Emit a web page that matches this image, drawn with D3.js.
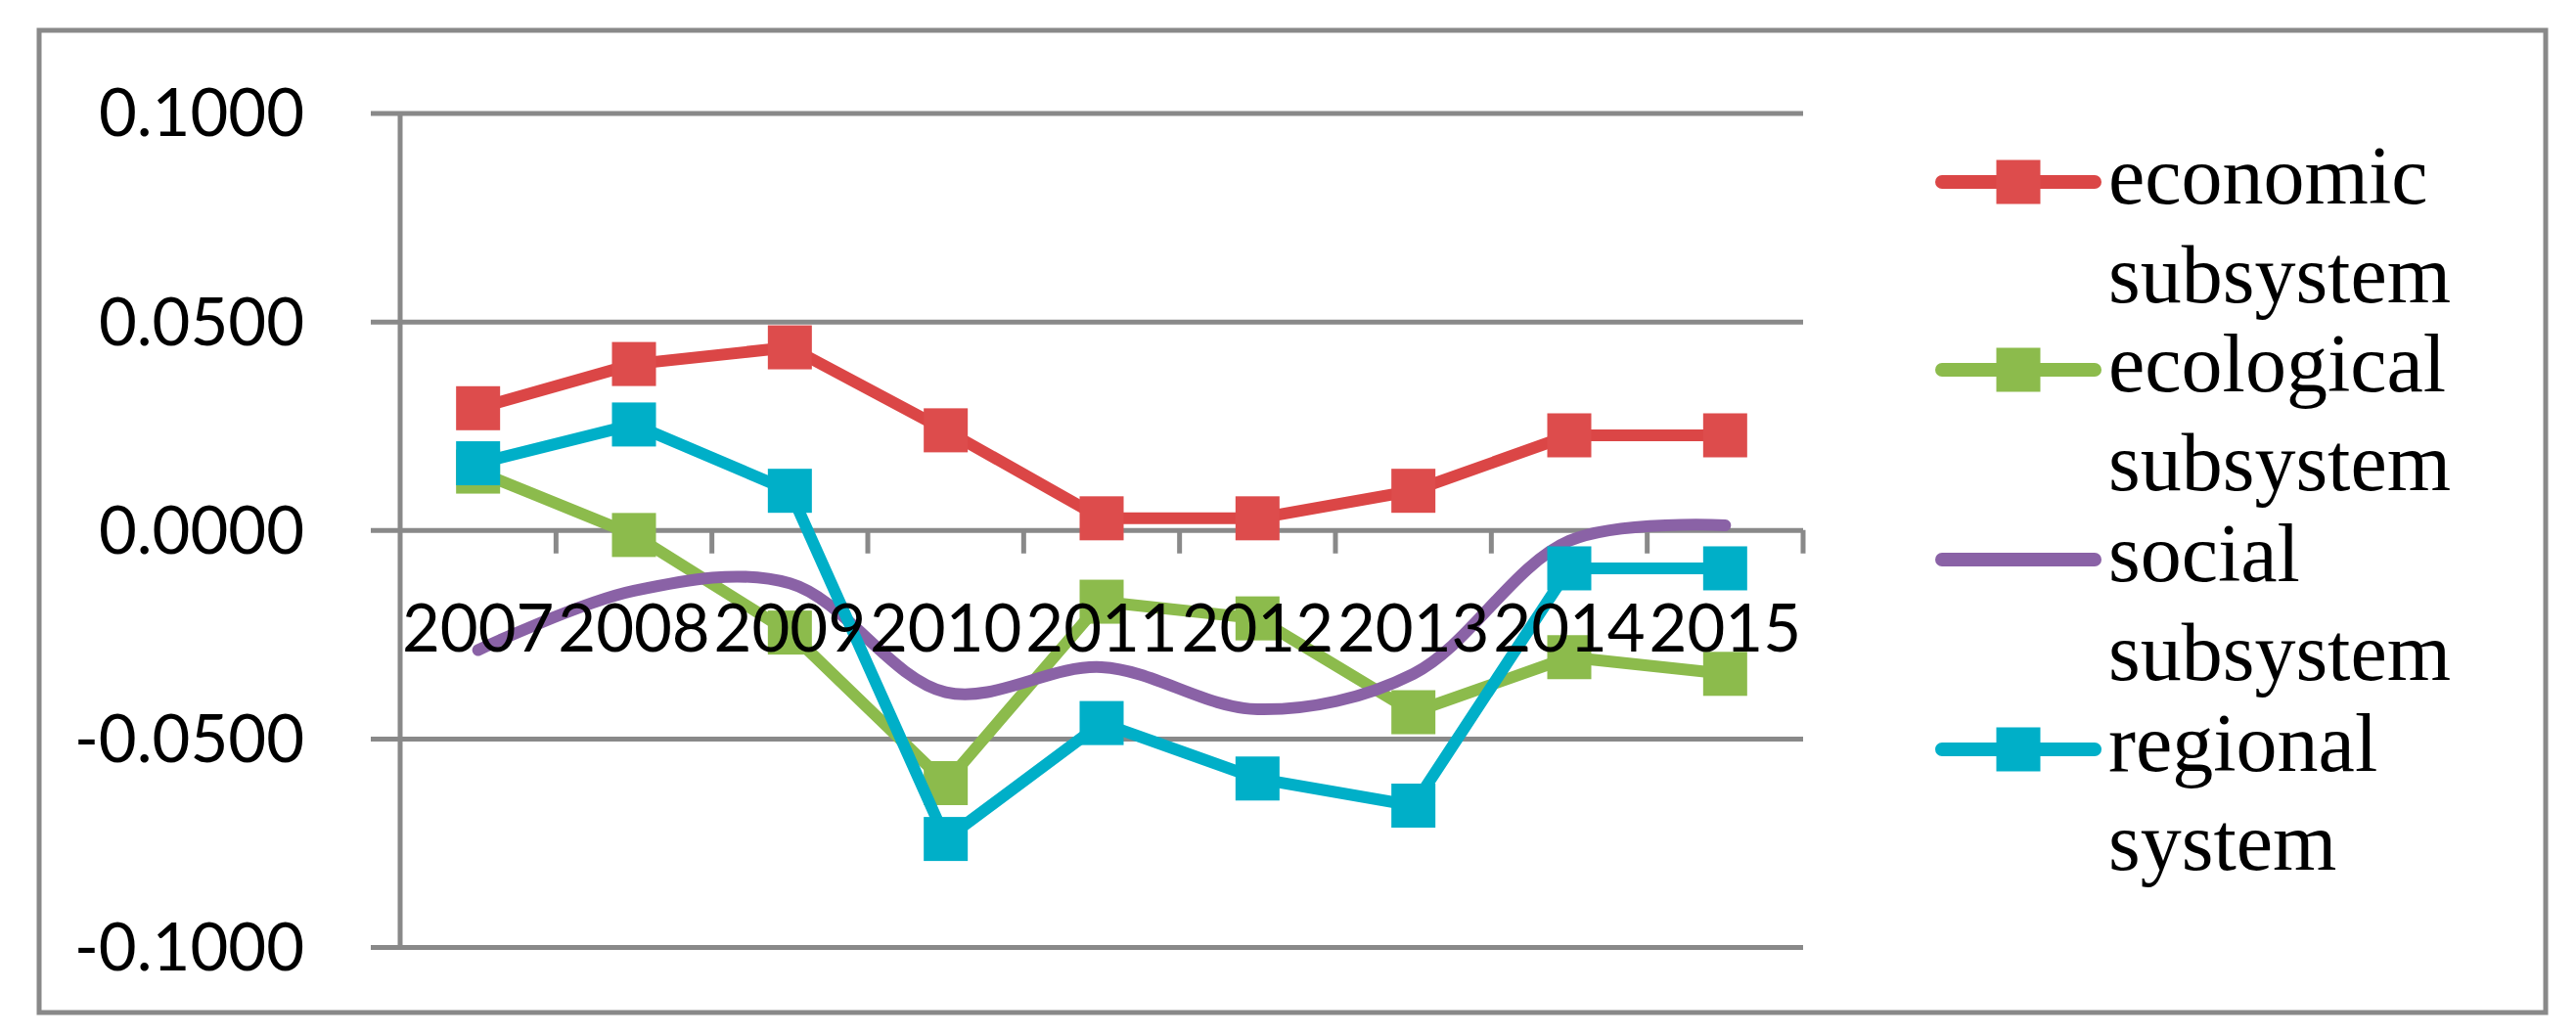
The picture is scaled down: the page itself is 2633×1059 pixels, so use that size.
<!DOCTYPE html>
<html>
<head>
<meta charset="utf-8">
<script src="https://cdn.jsdelivr.net/npm/d3@7"></script>
<style>
  html, body { margin: 0; padding: 0; background: #ffffff; }
  svg { display: block; }
</style>
</head>
<body>
<svg id="chart" width="2633" height="1059"></svg>
<script>
// ---- data ----
const years = ["2007", "2008", "2009", "2010", "2011", "2012", "2013", "2014", "2015"];
const economic  = [0.0292, 0.0398, 0.0438, 0.0239, 0.0028, 0.0028, 0.0094, 0.0227, 0.0227];
const ecological = [0.0140, -0.0012, -0.0246, -0.0607, -0.0172, -0.0212, -0.0437, -0.0305, -0.0345];
const social    = [-0.0288, -0.0146, -0.0128, -0.0389, -0.0329, -0.0430, -0.0345, -0.0026, 0.0011];
const regional  = [0.0160, 0.0253, 0.0094, -0.0741, -0.0463, -0.0596, -0.0661, -0.0092, -0.0092];
const yTicks = [-0.1, -0.05, 0, 0.05, 0.1];
const seriesNames = [["economic", "subsystem"], ["ecological", "subsystem"], ["social", "subsystem"], ["regional", "system"]];

// ---- styling / layout ----
const series = [
  { values: economic,  names: seriesNames[0], color: "#db4646", marker: "#dd4c4c", markers: true,  smooth: false },
  { values: ecological, names: seriesNames[1], color: "#8cbb4c", marker: "#8cbb4c", markers: true,  smooth: false },
  { values: social,    names: seriesNames[2], color: "#8a62a6", marker: "#8a62a6", markers: false, smooth: true },
  { values: regional,  names: seriesNames[3], color: "#00afc8", marker: "#00afc8", markers: true,  smooth: false }
];
const gray = "#898989";
const plot = { left: 409, right: 1843, top: 115.5, bottom: 968 };

const svg = d3.select("#chart");

// outer border
svg.append("rect")
  .attr("x", 40).attr("y", 31).attr("width", 2562).attr("height", 1004)
  .attr("fill", "#fff").attr("stroke", gray).attr("stroke-width", 5);

const x = d3.scaleBand().domain(years).range([plot.left, plot.right]).padding(0);
const y = d3.scaleLinear().domain([-0.1, 0.1]).range([plot.bottom, plot.top]);

const fmt = d => d3.format(".4f")(d).replace("\u2212", "-");

// horizontal gridlines with left tick extension
const yAxis = d3.axisLeft(y).tickValues(yTicks)
  .tickSize(0)
  .tickFormat(fmt);
const yg = svg.append("g").attr("transform", `translate(${plot.left - 30},0)`).call(yAxis);
yg.select(".domain").remove();
yg.selectAll(".tick line").attr("stroke", gray).attr("stroke-width", 5)
  .attr("x1", 0).attr("x2", plot.right - plot.left + 30);
yg.selectAll(".tick text")
  .attr("x", -68)
  .attr("font-family", "Lato, 'Liberation Sans', sans-serif")
  .attr("font-size", 67).attr("fill", "#000")
  .attr("text-anchor", "end").attr("dy", "0.35em");

// vertical axis line
svg.append("line")
  .attr("x1", plot.left).attr("x2", plot.left)
  .attr("y1", y(0.1)).attr("y2", y(-0.1))
  .attr("stroke", gray).attr("stroke-width", 5);

// category tick marks on the zero line
const boundaries = years.map(d => x(d) + x.bandwidth());
svg.append("g").selectAll("line").data(boundaries).join("line")
  .attr("x1", d => d).attr("x2", d => d)
  .attr("y1", y(0)).attr("y2", y(0) + 24)
  .attr("stroke", gray).attr("stroke-width", 5);

const cx = d => x(d) + x.bandwidth() / 2;

// series
series.forEach(s => {
  const pts = years.map((yr, i) => [cx(yr), y(s.values[i])]);
  const line = d3.line().curve(s.smooth ? d3.curveCatmullRom.alpha(0.5) : d3.curveLinear);
  svg.append("path").attr("d", line(pts))
    .attr("fill", "none").attr("stroke", s.color).attr("stroke-width", 12)
    .attr("stroke-linejoin", "round").attr("stroke-linecap", "round");
  if (s.markers) {
    svg.append("g").selectAll("rect").data(pts).join("rect")
      .attr("x", d => d[0] - 22.5).attr("y", d => d[1] - 22.5)
      .attr("width", 45).attr("height", 45).attr("fill", s.marker);
  }
});

// x labels
svg.append("g").selectAll("text").data(years).join("text")
  .attr("x", d => cx(d)).attr("y", 666)
  .attr("text-anchor", "middle")
  .attr("font-family", "Lato, 'Liberation Sans', sans-serif")
  .attr("font-size", 67).attr("fill", "#000")
  .style("mix-blend-mode", "multiply")
  .text(d => d);

// legend
const legY = [186, 378, 572, 766];
series.forEach((s, i) => {
  const g = svg.append("g").attr("transform", `translate(0,${legY[i]})`);
  g.append("line").attr("x1", 1985).attr("x2", 2141).attr("y1", 0).attr("y2", 0)
    .attr("stroke", s.color).attr("stroke-width", 14).attr("stroke-linecap", "round");
  if (s.markers) {
    g.append("rect").attr("x", 2063 - 22.5).attr("y", -22.5).attr("width", 45).attr("height", 45)
      .attr("fill", s.marker);
  }
  s.names.forEach((t, j) => {
    g.append("text").attr("x", 2155).attr("y", 22 + j * 101)
      .attr("font-family", "'Liberation Serif', 'DejaVu Serif', serif")
      .attr("font-size", 84).attr("fill", "#000").text(t);
  });
});
</script>
</body>
</html>
